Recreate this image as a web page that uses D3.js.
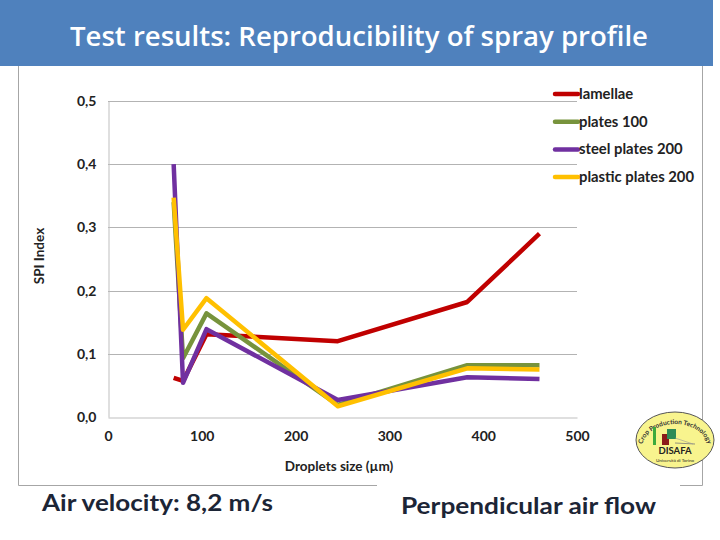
<!DOCTYPE html>
<html>
<head>
<meta charset="utf-8">
<script src="https://cdn.jsdelivr.net/npm/d3@7"></script>
<style>
  html, body { margin: 0; padding: 0; background: #fff; }
  svg { display: block; }
</style>
</head>
<body>
<svg id="chart" width="720" height="540"></svg>
<script>
// ---- data ----
const xValues = [70, 80, 105, 245, 383, 460];
const lamellae = [0.062, 0.057, 0.131, 0.120, 0.182, 0.290];
const plates100 = [0.340, 0.093, 0.164, 0.019, 0.082, 0.082];
const steelPlates200 = [0.400, 0.054, 0.139, 0.027, 0.063, 0.060];
const plasticPlates200 = [0.347, 0.138, 0.188, 0.017, 0.077, 0.075];
const seriesNames = ["lamellae", "plates 100", "steel plates 200", "plastic plates 200"];
const seriesColors = ["#c00000", "#77933c", "#7030a0", "#ffc000"];
const xTicks = [0, 100, 200, 300, 400, 500];
const yTicks = [0, 0.1, 0.2, 0.3, 0.4, 0.5];
const titleText = "Test results: Reproducibility of spray profile";
const yTitle = "SPI Index";
const xTitle = "Droplets size (\u00b5m)";
const noteLeft = "Air velocity: 8,2 m/s";
const noteRight = "Perpendicular air flow";

const allSeries = [lamellae, plates100, steelPlates200, plasticPlates200];

const svg = d3.select("#chart");
const font = "Lato, 'Open Sans', sans-serif";

// header band
svg.append("rect").attr("x", 0).attr("y", 0).attr("width", 713).attr("height", 66).attr("fill", "#4f81bd");
svg.append("text").attr("x", 359).attr("y", 46).attr("text-anchor", "middle")
  .attr("font-family", "'Open Sans', Lato, sans-serif").attr("font-size", 27).attr("font-weight", 600)
  .attr("fill", "#fff")
  .attr("textLength", 578).attr("lengthAdjust", "spacingAndGlyphs")
  .text(titleText);

// frame
const frameColor = "#a6a6a6";
const frame = svg.append("g").attr("stroke", frameColor).attr("stroke-width", 1);
frame.append("line").attr("x1", 18.5).attr("x2", 18.5).attr("y1", 66).attr("y2", 485.5);
frame.append("line").attr("x1", 702.5).attr("x2", 702.5).attr("y1", 66).attr("y2", 485.5);
frame.append("line").attr("x1", 18.5).attr("x2", 377).attr("y1", 485.5).attr("y2", 485.5);
frame.append("line").attr("x1", 680).attr("x2", 702.5).attr("y1", 485.5).attr("y2", 485.5);

// scales
const x = d3.scaleLinear().domain([0, 500]).range([108, 577]);
const y = d3.scaleLinear().domain([0, 0.5]).range([417, 101]);
const fmt = d => d3.format(".1f")(d).replace(".", ",");

// gridlines
svg.append("g").selectAll("line").data(yTicks.filter(d => d > 0)).join("line")
  .attr("x1", x(0)).attr("x2", x(500))
  .attr("y1", d => Math.round(y(d)) + 0.5).attr("y2", d => Math.round(y(d)) + 0.5)
  .attr("stroke", "#b3b3b3").attr("stroke-width", 1);

// axes
const yAxis = svg.append("g").attr("transform", `translate(${x(0) + 0.5},0)`)
  .call(d3.axisLeft(y).tickValues(yTicks).tickFormat(fmt).tickSize(0).tickPadding(12));
const xAxis = svg.append("g").attr("transform", `translate(0,${Math.round(y(0)) + 0.5})`)
  .call(d3.axisBottom(x).tickValues(xTicks).tickFormat(d3.format("d")).tickSize(0).tickPadding(14));
[yAxis, xAxis].forEach(a => {
  a.select(".domain").attr("stroke", "#bfbfbf");
  a.selectAll("text").attr("font-family", font).attr("font-size", 14)
    .attr("font-weight", "bold").attr("fill", "#222");
});

// axis titles
svg.append("text").attr("transform", "translate(44,256) rotate(-90)").attr("text-anchor", "middle")
  .attr("font-family", font).attr("font-size", 13.5).attr("font-weight", "bold").attr("fill", "#222")
  .text(yTitle);
svg.append("text").attr("x", 339).attr("y", 471).attr("text-anchor", "middle")
  .attr("font-family", font).attr("font-size", 13.5).attr("font-weight", "bold").attr("fill", "#222")
  .text(xTitle);

// lines
const line = d3.line().x((d, i) => x(xValues[i])).y(d => y(d));
svg.append("g").selectAll("path").data(allSeries).join("path")
  .attr("d", d => line(d)).attr("fill", "none")
  .attr("stroke", (d, i) => seriesColors[i]).attr("stroke-width", 4.5)
  .attr("stroke-linejoin", "round");

// legend
const lg = svg.append("g").selectAll("g").data(seriesNames).join("g")
  .attr("transform", (d, i) => `translate(555,${94 + i * 27.7})`);
lg.append("line").attr("x1", 0).attr("x2", 23).attr("y1", 0).attr("y2", 0)
  .attr("stroke", (d, i) => seriesColors[i]).attr("stroke-width", 4.5).attr("stroke-linecap", "round");
lg.append("text").attr("x", 24).attr("y", 5).attr("font-family", font).attr("font-size", 14.8)
  .attr("font-weight", "bold").attr("fill", "#222").text(d => d);

// bottom notes
svg.append("text").attr("x", 42).attr("y", 511).attr("font-family", font).attr("font-size", 23)
  .attr("font-weight", "bold")
  .attr("fill", "#1c2536").attr("textLength", 231).attr("lengthAdjust", "spacingAndGlyphs").text(noteLeft);
svg.append("text").attr("x", 401).attr("y", 514).attr("font-family", font).attr("font-size", 23)
  .attr("font-weight", "bold")
  .attr("fill", "#1c2536").attr("textLength", 255).attr("lengthAdjust", "spacingAndGlyphs").text(noteRight);

// logo
const logo = svg.append("g").attr("transform", "translate(675,440)");
logo.append("ellipse").attr("rx", 39).attr("ry", 28).attr("fill", "#f8f48e").attr("stroke", "#555").attr("stroke-width", 1);
logo.append("path").attr("id", "logoArc").attr("d", "M -33,8 A 33,24 0 0 1 33,8").attr("fill", "none");
logo.append("text").attr("font-family", font).attr("font-size", 6.5).attr("font-weight", "bold").attr("fill", "#333")
  .append("textPath").attr("href", "#logoArc").attr("startOffset", "50%").attr("text-anchor", "middle")
  .text("Crop Production Technology");
logo.append("rect").attr("x", -22).attr("y", -13).attr("width", 3).attr("height", 18).attr("fill", "#3caa3c");
logo.append("rect").attr("x", -13).attr("y", -6).attr("width", 7).attr("height", 11).attr("fill", "#8b1a1a");
logo.append("rect").attr("x", -8).attr("y", -11).attr("width", 9).attr("height", 10).attr("fill", "#2e8b57");
logo.append("line").attr("x1", 0).attr("x2", 20).attr("y1", 3).attr("y2", 4).attr("stroke", "#777").attr("stroke-width", 0.8);
logo.append("line").attr("x1", 0).attr("x2", 18).attr("y1", -2).attr("y2", 4).attr("stroke", "#999").attr("stroke-width", 0.6);
logo.append("text").attr("x", 0).attr("y", 14).attr("text-anchor", "middle").attr("font-family", font)
  .attr("font-size", 9.5).attr("font-weight", "bold").attr("fill", "#222").text("DISAFA");
logo.append("text").attr("x", 0).attr("y", 22).attr("text-anchor", "middle").attr("font-family", font)
  .attr("font-size", 4.5).attr("fill", "#222").text("Università di Torino");
</script>
</body>
</html>
